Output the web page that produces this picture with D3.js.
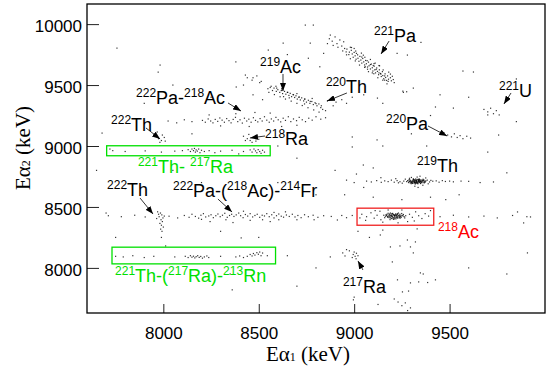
<!DOCTYPE html>
<html>
<head>
<meta charset="utf-8">
<script src="https://cdn.jsdelivr.net/npm/d3@7"></script>
<style>
body { margin: 0; background: #fff; }
</style>
</head>
<body>
<svg id="chart" width="551" height="374"></svg>
<script>
// event groups, [Eα1, Eα2] in keV
const pa221 = [[8962,9795],[8975,9770],[8958,9772],[8985,9785],[8990,9755],[8972,9750],[9000,9768],[9005,9740],[8995,9728],[9018,9748],[9020,9720],[9010,9712],[9030,9735],[9035,9705],[9025,9695],[9045,9718],[9050,9690],[9040,9680],[9060,9702],[9064,9675],[9055,9665],[9075,9688],[9078,9658],[9070,9648],[9090,9672],[9095,9642],[9085,9632],[9105,9655],[9108,9625],[9098,9615],[9118,9640],[9122,9612],[9112,9600],[9132,9625],[9138,9595],[9128,9585],[9148,9610],[9150,9578],[9142,9570],[9162,9592],[9165,9562],[9155,9552],[9175,9575],[9180,9548],[9170,9538],[9190,9560],[9195,9535],[9205,9545],[9068,9700],[9100,9660],[9140,9590],[9040,9730],[9115,9628],[9160,9575],[9085,9668],[9012,9760],[9130,9600],[9058,9650],[9178,9530],[9210,9520],
  [8986,9808],[8960,9748],[9008,9779],[8980,9716],[9038,9762],[9006,9698],[9056,9728],[9028,9664],[9085,9710],[9055,9645],[9104,9676],[9075,9610],[9133,9658],[9103,9593],[9152,9624],[9124,9560],[9181,9606],[9150,9540],[9200,9572],[9172,9510],[9048,9745],[9110,9680],[9070,9630],[9160,9540],[9000,9800],[9130,9660],[9095,9600],[9190,9590],
  [8870,9880],[8885,9860],[8900,9895],[8910,9840],[8925,9870],[8935,9820],[8945,9855],[8890,9825],[8950,9800],[8915,9810],[8875,9910],[8860,9840],[8940,9780],[8980,9810]];
const ac219 = [[8548,9470],[8560,9480],[8572,9455],[8580,9475],[8592,9448],[8600,9462],[8610,9440],[8618,9455],[8625,9430],[8635,9448],[8642,9425],[8650,9440],[8658,9415],[8665,9432],[8672,9405],[8680,9422],[8688,9398],[8695,9412],[8702,9385],[8710,9400],[8718,9378],[8725,9395],[8735,9370],[8742,9385],[8750,9360],[8760,9375],[8768,9350],[8778,9365],[8786,9340],[8795,9355],[8805,9330],[8815,9345],[8825,9315],[8835,9300],[8590,9490],[8620,9470],[8660,9395],[8700,9430],[8740,9345],[8780,9390],[8630,9405],[8850,9290],
  [8565,9490],[8553,9440],[8594,9475],[8582,9422],[8622,9458],[8612,9404],[8652,9440],[8640,9385],[8682,9420],[8670,9368],[8712,9402],[8700,9350],[8740,9385],[8728,9332],[8770,9366],[8758,9314],[8800,9348],[8788,9296],[8828,9330],[8816,9278],
  [8440,9560],[8465,9540],[8490,9575],[8505,9520],[8420,9500],[8520,9380],[8470,9420]];
const th220 = [[8860,9370],[8880,9390],[8905,9360],[8935,9380],[8960,9350],[8890,9330],[8990,9400]];
const pa222ac218 = [[8025,9205],[8070,9190],[8110,9215],[8150,9200],[8205,9210],[8220,9195],[8235,9222],[8248,9205],[8260,9190],[8272,9218],[8285,9202],[8296,9230],[8308,9212],[8320,9195],[8332,9225],[8344,9208],[8355,9190],[8366,9218],[8378,9235],[8390,9200],[8402,9215],[8414,9188],[8425,9228],[8437,9205],[8448,9220],[8460,9195],[8472,9232],[8483,9210],[8495,9198],[8507,9225],[8518,9205],[8530,9240],[8542,9212],[8555,9195],[8566,9222],[8578,9205],[8590,9235],[8602,9215],[8615,9198],[8628,9228],[8640,9210],[8655,9240],[8668,9200],[8682,9222],[8698,9208],[8712,9235],[8728,9215],[8745,9200],[8762,9228],[8780,9212],[8800,9240],[8825,9220],[8850,9232],[8300,9165],[8450,9160],[8380,9265],[8560,9270],[8700,9170],[8240,9255],[8620,9160],[8480,9275]];
const ra218 = [[8420,9080],[8440,9060],[8455,9045],[8470,9070],[8485,9040],[8500,9055],[8465,9030],[8430,9045],[8490,9085],[8448,9095]];
const th222a = [[7975,9060],[7990,9045],[8005,9070],[7982,9030],[7995,9090],[8010,9040],[7968,9115]];
const th221ra217 = [[7720,8975],[7735,8962],[7800,8955],[7905,8960],[7990,8950],[8060,8958],[8100,8962],[8130,8970],[8142,8955],[8150,8975],[8158,8962],[8163,8980],[8168,8950],[8172,8968],[8178,8958],[8185,8975],[8192,8945],[8200,8965],[8215,8955],[8240,8962],[8300,8958],[8360,8965],[8420,8955],[8455,8968],[8465,8950],[8475,8975],[8483,8960],[8490,8945],[8497,8970],[8505,8955],[8512,8940],[8520,8965],[8530,8950],[8395,8935],[8270,8945]];
const th219 = [[9312,8712],[9325,8705],[9338,8718],[9301,8699],[9346,8709],[9330,8726],[9319,8694],[9355,8715],[9290,8708],[9341,8701],[9327,8716],[9308,8720],[9362,8704],[9296,8715],[9334,8690],[9350,8723],[9316,8703],[9322,8729],[9370,8711],[9285,8700],[9344,8714],[9305,8706],[9331,8698],[9359,8719],[9313,8724],[9338,8708],[9280,8716],[9367,8697],[9324,8711],[9299,8691],[9352,8703],[9318,8717],[9342,8726],[9309,8697],[9376,8714],[9327,8702],[9292,8721],[9348,8692],[9336,8714],[9303,8710],[9320,8688],[9361,8727],[9314,8707],[9288,8725],[9345,8718],[9333,8695],[9372,8706],[9298,8703],[9326,8720],[9355,8699],[9310,8730],[9340,8704],[9383,8720],[9275,8708],[9321,8714],[9350,8710],[9306,8693],[9337,8723],[9364,8716],[9316,8700],
  [9315,8711],[9328,8709],[9342,8712],[9322,8700],[9335,8722],[9308,8715],[9350,8706],[9297,8709],[9365,8722],[9287,8713],[9333,8705],[9318,8722],[9347,8697],[9303,8702],[9358,8712],[9325,8694],[9340,8730],[9311,8727],[9370,8702],[9294,8697],
  [9260,8712],[9395,8705],[9252,8695],[9402,8718],[9268,8728],[9388,8690],[9330,8745],[9318,8670],[9345,8752],[9300,8742],[9360,8678],[9335,8660],[9290,8735],[9375,8738],[9240,8707],[9412,8711],
  [9065,8712],[9090,8705],[9118,8716],[9142,8702],[9160,8714],[9178,8708],[9195,8720],[9210,8703],[9225,8716],[9232,8698],[9430,8714],[9445,8703],[9462,8716],[9478,8709],[9500,8712],[9520,8706],[9140,8740],[9012,8770],[9560,8712],[9218,8732]];
const ac218 = [[9195,8428],[9210,8418],[9224,8432],[9182,8421],[9238,8426],[9205,8440],[9190,8410],[9217,8436],[9246,8414],[9170,8430],[9229,8420],[9200,8425],[9213,8405],[9186,8442],[9252,8431],[9221,8412],[9176,8415],[9240,8440],[9198,8436],[9208,8398],[9233,8428],[9164,8424],[9262,8420],[9190,8450],[9215,8427],[9227,8445],[9181,8433],[9204,8412],[9244,8422],[9193,8418],[9258,8438],[9172,8440],[9219,8402],[9236,8412],[9201,8447],[9186,8426],[9226,8437],[9212,8430],[9249,8446],[9160,8412],[9196,8405],[9270,8428],[9232,8450],[9178,8448],[9207,8433],[9241,8408],[9188,8396],[9222,8424],[9155,8432],[9265,8410],
  [9199,8422],[9212,8428],[9226,8416],[9187,8436],[9235,8433],[9203,8410],[9218,8444],[9192,8429],[9245,8428],[9174,8422],[9209,8437],[9228,8408],[9183,8412],[9256,8426],[9214,8415],[9197,8444],[9238,8418],[9167,8436],[9222,8433],[9205,8401],
  [9040,8440],[9065,8420],[9088,8452],[9105,8408],[9120,8432],[9135,8465],[9140,8395],[9290,8440],[9305,8415],[9322,8460],[9338,8428],[9355,8405],[9372,8445],[9390,8425],[9400,8470],[9110,8470],[9280,8380],[9150,8375],[9230,8370],[9315,8385],[9060,8390],[9178,8475],[9250,8475],[9030,8410],
  [9450,8420],[9520,8432],[9600,8418],[9680,8425],[9750,8410],[9830,8430],[9905,8420],[8990,8430],[8960,8412]];
const pa222fr214 = [[7712,8428],[7780,8420],[7850,8432],[7905,8418],[8030,8424],[8075,8410],[8110,8430],[8135,8415],[8150,8440],[8168,8422],[8185,8408],[8197,8432],[8210,8445],[8222,8418],[8238,8426],[8250,8436],[8262,8412],[8275,8428],[8286,8442],[8298,8420],[8310,8432],[8322,8448],[8335,8415],[8347,8430],[8358,8440],[8370,8422],[8382,8435],[8395,8450],[8405,8428],[8418,8412],[8430,8438],[8442,8425],[8455,8445],[8468,8418],[8480,8430],[8492,8440],[8505,8415],[8518,8432],[8530,8426],[8542,8445],[8555,8420],[8568,8436],[8580,8410],[8593,8428],[8605,8442],[8618,8424],[8630,8416],[8645,8434],[8660,8422],[8676,8440],[8690,8418],[8705,8430],[8722,8412],[8740,8436],[8760,8420],[8785,8432],[8810,8415],[8840,8428],[8880,8422],[8935,8430],[8328,8395],[8455,8390],[8580,8455],[8700,8395],[8200,8398],[8420,8465],[8520,8395],[8640,8460],[8365,8372],[8560,8380],[8245,8380],[8790,8395],[8605,8395]];
const th222b = [[7985,8450],[7992,8435],[7978,8420],[7998,8410],[7988,8395],[7995,8380],[7982,8365],[7990,8350],[8000,8335],[7986,8318],[7993,8300],[7975,8440],[8005,8425],[7970,8460],[7990,8250],[8012,8180],[7965,8405]];
const th221rn213 = [[7750,8095],[7790,8090],[7840,8100],[7900,8085],[7950,8095],[8115,8095],[8130,8085],[8142,8100],[8150,8088],[8158,8096],[8165,8082],[8172,8092],[8180,8100],[8188,8086],[8196,8094],[8205,8080],[8215,8090],[8228,8098],[8238,8085],[8380,8090],[8400,8098],[8420,8085],[8440,8095],[8455,8110],[8465,8098],[8472,8118],[8480,8105],[8490,8125],[8498,8112],[8505,8130],[8512,8100],[8520,8122],[8545,8100],[8300,8095],[8060,8090]];
const ra217 = [[8995,8110],[9005,8095],[9012,8120],[8990,8085],[9020,8100],[9000,8130],[9010,8075],[8975,8140],[8960,8150],[8940,8123],[8952,8098]];
const pa220 = [[9490,9090],[9510,9075],[9525,9100],[9540,9070],[9555,9085],[9570,9060],[9590,9080],[9610,9065],[9470,9110]];
const u221 = [[9680,9300],[9700,9280],[9715,9310],[9730,9265],[9745,9290],[9760,9255],[9700,9255]];
const background = [[7757,9803],[7983,9664],[7973,9606],[8550,9787],[8430,9582],[8470,9560],[8513,9530],[8382,9484],[7679,9106],[8408,8246],[8990,8992],[9048,8844],[9100,8820],[8912,8393],[9888,8369],[9856,8459],[9730,8705],[9924,8418],[8875,8090],[9190,8172],[9279,8229],[9908,8123],[9137,8270],[9321,8213],[9240,8180],[9295,8172],[9310,8123],[9200,8049],[9347,7959],[9362,7950],[9295,7877],[9338,7885],[9385,7880],[9426,7902],[9253,7803],[9285,7810],[9227,7902],[8996,7738],[9268,7713],[9295,7672],[9210,7745],[9230,7720],[9250,7690],[9280,7650],[9000,7760],[9125,7700],[8361,7820],[8786,9992],[9258,9440],[9275,9445],[9426,9320],[9520,9311],[9625,9607],[9570,9615],[9279,9746],[9225,9760],[9122,9393],[8990,9074],[9757,9090],[8744,9992],[8770,9844],[8760,9720],[8840,9760],[8628,9844],[9310,9475],[9255,9450],[8380,9690],[8650,9750],[8700,9600],[8820,9650],[9350,9850],[9450,9420],[9600,9400],[9050,9420],[9150,9350],[9850,9550],[9400,9250],[9300,9100],[9150,9000],[8700,8900],[8800,8600],[8600,8700],[9700,8950],[9850,9200],[9550,8600],[9600,8250],[8500,8250],[8200,8700],[8050,8800],[7800,8650],[7700,8450],[8350,7950],[8700,7850],[9800,7950],[9600,8000],[8950,8600],[8900,8800],[9120,9050],[9380,9000],[9020,8300],[9080,8250],[9150,8310],[9330,8320],[9250,8560],[9100,8580],[9400,8580],[9480,8560],[9050,8660],[9000,8700],[8960,8720],[9600,8710],[9660,8700],[9800,8780],[8050,9500],[8250,9400],[8150,9100],[7900,9350],[7650,8800],[7750,8250],[8300,8300],[8650,8100],[8800,8000],[8600,9000],[8750,9050]];

// axis ticks
const xMajor = [8000, 8500, 9000, 9500];
const yMajor = [8000, 8500, 9000, 9500, 10000];
const xMinor = d3.range(7700, 10000, 100);
const yMinor = d3.range(7700, 10165, 100);

// gates: [x0, x1, y0, y1]
const gates = [
  {box: [7703, 8560, 8920, 9002], color: "#00e000"},
  {box: [7731, 8588, 8033, 8170], color: "#00e000"},
  {box: [9015, 9417, 8350, 8490], color: "#f02020"}
];

// labels, {sup} = superscript mass number
const labels = [
  {t: "{221}Pa", x: 9104, y: 9853},
  {t: "{219}Ac", x: 8507, y: 9599},
  {t: "{220}Th", x: 8852, y: 9435},
  {t: "{222}Pa-{218}Ac", x: 7857, y: 9345},
  {t: "{222}Th", x: 7726, y: 9123},
  {t: "{218}Ra", x: 8533, y: 9008},
  {t: "{221}Th- {217}Ra", x: 7867, y: 8779, c: "#00e000"},
  {t: "{222}Th", x: 7705, y: 8590},
  {t: "{222}Pa-({218}Ac)-{214}Fr", x: 8051, y: 8582},
  {t: "{221}Th-({217}Ra)-{213}Rn", x: 7747, y: 7884, c: "#00e000"},
  {t: "{219}Th", x: 9329, y: 8787},
  {t: "{218}Ac", x: 9439, y: 8245, c: "#ff0000"},
  {t: "{217}Ra", x: 8941, y: 7794},
  {t: "{220}Pa", x: 9167, y: 9131},
  {t: "{221}U", x: 9759, y: 9402}
];

// arrows: [x1, y1, x2, y2]
const arrows = [
  [9183, 9861, 9141, 9755],
  [8627, 9591, 8627, 9451],
  [8962, 9435, 8858, 9369],
  [8339, 9353, 8407, 9287],
  [7909, 9148, 7983, 9058],
  [8533, 9082, 8454, 9066],
  [7878, 8573, 7946, 8442],
  [8286, 8565, 8360, 8459],
  [9046, 7983, 9020, 8057],
  [9387, 9164, 9487, 9082],
  [9822, 9435, 9785, 9345]
];

const svg = d3.select("#chart");
const x = d3.scaleLinear().domain([7600, 10000]).range([87, 545]);
const y = d3.scaleLinear().domain([7630, 10165]).range([313, 4]);
const sans = "Liberation Sans, Arial, sans-serif";
const serif = "Liberation Serif, Times New Roman, serif";

svg.append("defs").append("marker")
  .attr("id", "head")
  .attr("markerUnits", "userSpaceOnUse")
  .attr("markerWidth", 8).attr("markerHeight", 6)
  .attr("refX", 8).attr("refY", 3)
  .attr("orient", "auto")
  .append("path").attr("d", "M0,0L8,3L0,6Z").attr("fill", "#000");

// points
const allPoints = [].concat(pa221, ac219, th220, pa222ac218, ra218, th222a, th221ra217,
  th219, ac218, pa222fr214, th222b, th221rn213, ra217, pa220, u221, background);
svg.append("g").selectAll("rect")
  .data(allPoints)
  .enter().append("rect")
  .attr("x", d => x(d[0]) - 0.6)
  .attr("y", d => y(d[1]) - 0.6)
  .attr("width", 1.2)
  .attr("height", 1.2)
  .attr("fill", "#000")
  .attr("fill-opacity", 0.8);

// gates
svg.append("g").selectAll("rect")
  .data(gates)
  .enter().append("rect")
  .attr("x", d => x(d.box[0]))
  .attr("y", d => y(d.box[3]))
  .attr("width", d => x(d.box[1]) - x(d.box[0]))
  .attr("height", d => y(d.box[2]) - y(d.box[3]))
  .attr("fill", "none")
  .attr("stroke", d => d.color)
  .attr("stroke-width", 1.3);

// arrows
svg.append("g").selectAll("line")
  .data(arrows)
  .enter().append("line")
  .attr("x1", d => x(d[0])).attr("y1", d => y(d[1]))
  .attr("x2", d => x(d[2])).attr("y2", d => y(d[3]))
  .attr("stroke", "#000").attr("stroke-width", 0.8)
  .attr("marker-end", "url(#head)");

// labels
labels.forEach(function (l) {
  const txt = svg.append("text")
    .attr("x", x(l.x)).attr("y", y(l.y))
    .attr("font-family", sans)
    .attr("font-size", 18)
    .attr("fill", l.c || "#000");
  let up = false;
  l.t.split(/(\{[^}]*\})/).filter(s => s.length).forEach(function (s) {
    if (s[0] === "{") {
      txt.append("tspan").attr("font-size", 12).attr("dy", up ? 0 : -7).text(s.slice(1, -1));
      up = true;
    } else {
      txt.append("tspan").attr("dy", up ? 7 : 0).text(s);
      up = false;
    }
  });
});

// axes
const gx = svg.append("g").attr("transform", "translate(0,313)");
gx.call(d3.axisBottom(x).tickValues(xMinor).tickSizeInner(-4.5).tickSizeOuter(0).tickFormat(""));
gx.call(d3.axisBottom(x).tickValues(xMajor).tickSizeInner(-9).tickSizeOuter(0).tickPadding(14).tickFormat(d3.format("d")));
const gy = svg.append("g").attr("transform", "translate(87,0)");
gy.call(d3.axisLeft(y).tickValues(yMinor).tickSizeInner(-6).tickSizeOuter(0).tickFormat(""));
gy.call(d3.axisLeft(y).tickValues(yMajor).tickSizeInner(-12).tickSizeOuter(0).tickPadding(5).tickFormat(d3.format("d")));
svg.selectAll(".domain").remove();
svg.selectAll(".tick line").attr("stroke", "#222");
svg.selectAll(".tick text").attr("font-family", sans).attr("font-size", 17).attr("fill", "#000");
gy.selectAll(".tick text").attr("dy", "0.42em");

svg.append("rect")
  .attr("x", 87).attr("y", 4)
  .attr("width", 458).attr("height", 309)
  .attr("fill", "none").attr("stroke", "#000").attr("stroke-width", 1.3);

// axis titles
const xt = svg.append("text")
  .attr("x", 308).attr("y", 361)
  .attr("text-anchor", "middle")
  .attr("font-family", serif).attr("font-size", 21);
xt.append("tspan").text("E\u03b1");
xt.append("tspan").attr("font-size", 12).text("1");
xt.append("tspan").text(" (keV)");

const yt = svg.append("text")
  .attr("transform", "translate(30,148) rotate(-90)")
  .attr("text-anchor", "middle")
  .attr("font-family", serif).attr("font-size", 21);
yt.append("tspan").text("E\u03b1");
yt.append("tspan").attr("font-size", 12).text("2");
yt.append("tspan").text(" (keV)");
</script>
</body>
</html>
